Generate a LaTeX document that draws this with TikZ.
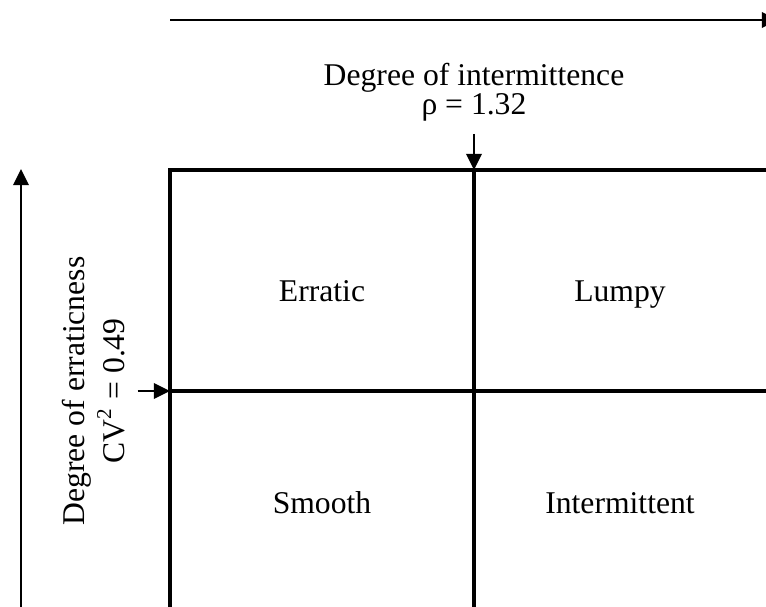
\documentclass[tikz,border=0pt]{standalone}
\usepackage{fontspec}
\setmainfont{Liberation Serif}
\usetikzlibrary{arrows.meta, positioning}

\begin{document}
\begin{tikzpicture}[x=0.01cm, y=-0.01cm, >={Triangle[length=4.6pt, width=4.4pt]},
  font=\fontsize{9}{9}\selectfont,
  frontera/.style={line width=1.3pt},
  flecha/.style={->, line width=0.6pt},
  zona/.style={anchor=base}]
\useasboundingbox (0,0) rectangle (766,607);
% Puntos
\coordinate (tl) at (170,170);
\coordinate (tr) at (790,170);
\coordinate (bl) at (170,620);
\coordinate (mt) at (474,170);
\coordinate (mb) at (474,620);
\coordinate (ml) at (170,391);
\coordinate (mr) at (790,391);
\coordinate (x0) at (170,20);
\coordinate (x1) at (778,20);
\coordinate (y0) at (21,620);
\coordinate (y1) at (21,169);
% Cuadrantes
\draw[frontera] (tr) -- (tl) -- (bl);
\draw[frontera] (mt) -- (mb);
\draw[frontera] (ml) -- (mr);
\node[zona] (erratic) at (322,302) {Erratic};
\node[zona] (lumpy) at (620,302) {Lumpy};
\node[zona] (smooth) at (322,514) {Smooth};
\node[zona] (intermittent) at (620,514) {Intermittent};
% Ejes
\draw[flecha] (x0) -- (x1);
\draw[flecha] (y0) -- (y1);
% Umbrales
\node[align=center, font={\fontsize{9}{8.3}\selectfont\lineskiplimit=-3pt}, above=0.36cm of mt] (rho) {Degree of intermittence\\ρ = 1.32};
\node[align=center, font=\fontsize{9}{11.4}\selectfont, rotate=90, anchor=south] (cv) at (137.5,391) {Degree of erraticness\\CV\textsuperscript{2} = 0.49};
\draw[flecha] (rho) -- (mt);
\draw[flecha] (cv) -- (ml);
\end{tikzpicture}
\end{document}
